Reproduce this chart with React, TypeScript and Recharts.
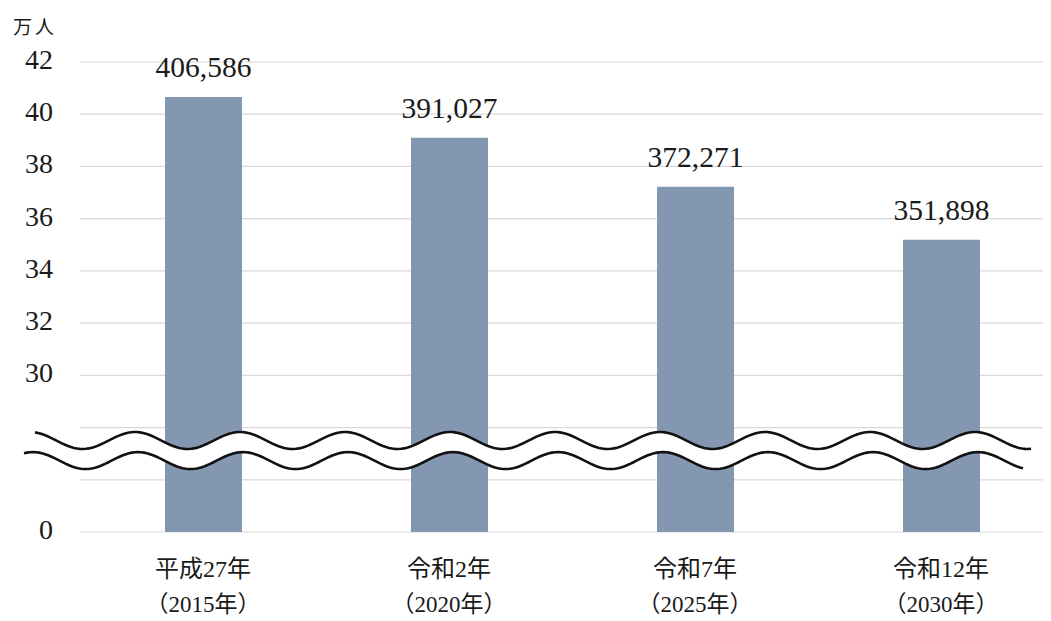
import { BarChart, Bar, XAxis, YAxis, CartesianGrid, LabelList, ReferenceArea } from "recharts";

// 人口（人）
const eraLabels = ["平成27年", "令和2年", "令和7年", "令和12年"];
const yearLabels = ["（2015年）", "（2020年）", "（2025年）", "（2030年）"];
const population = [406586, 391027, 372271, 351898];

// y axis is broken: the bottom tick (24) is shown as 0
const yTicks = [24, 26, 28, 30, 32, 34, 36, 38, 40, 42];
const yTickText: Record<number, string> = { 24: "0", 26: "", 28: "" };

const data = eraLabels.map((era, i) => ({
  era,
  people: population[i],
  man: population[i] / 10000,
}));

const FONT = '"Liberation Serif", "Noto Sans CJK JP", serif';
const TEXT = "#1a1a1a";

const XTick = (props: any) => {
  const { x, y, payload } = props;
  const i = payload.index ?? eraLabels.indexOf(payload.value);
  return (
    <g>
      <text x={x} y={y + 45} textAnchor="middle" fontSize={24} fill={TEXT} fontFamily={FONT}>
        {payload.value}
      </text>
      <text x={x} y={y + 80} textAnchor="middle" fontSize={23} fill={TEXT} fontFamily={FONT}>
        {yearLabels[i]}
      </text>
    </g>
  );
};

const curve = (xs: number, xe: number, yc: number, amp: number, peakX: number, period: number) => {
  const pts: [number, number][] = [];
  for (let px = xs; px <= xe; px += 3) {
    pts.push([px, yc - amp * Math.cos((2 * Math.PI * (px - peakX)) / period)]);
  }
  return pts;
};

const BreakWave = (props: any) => {
  const { x, y, height } = props;
  const amp = 8.5;
  const period = 105;
  const peakX = x - 50;
  const upper = curve(x - 45, x + 953, y + amp, amp, peakX, period);
  const lower = curve(x - 56, x + 943, y + height - amp, amp, peakX + 3, period);
  const fillUp = curve(x - 56, x + 953, y + amp, amp, peakX, period);
  const fillLow = curve(x - 56, x + 953, y + height - amp, amp, peakX + 3, period);
  const toD = (p: [number, number][]) => p.map((q, k) => `${k ? "L" : "M"}${q[0]},${q[1]}`).join(" ");
  const fillD =
    toD(fillUp) +
    " " +
    fillLow
      .slice()
      .reverse()
      .map((q) => `L${q[0]},${q[1]}`)
      .join(" ") +
    " Z";
  return (
    <g>
      <path d={fillD} fill="#ffffff" stroke="none" />
      <path d={toD(upper)} fill="none" stroke="#111" strokeWidth={2.6} />
      <path d={toD(lower)} fill="none" stroke="#111" strokeWidth={2.6} />
    </g>
  );
};

export default function App() {
  return (
    <div style={{ position: "relative", width: 1043, height: 613, overflow: "hidden", background: "#fff" }}>
      <div
        style={{
          position: "absolute",
          left: 5,
          top: 8,
          fontSize: 19,
          lineHeight: 1,
          letterSpacing: 3,
          fontFamily: '"Noto Sans CJK JP", sans-serif',
          color: TEXT,
        }}
      >
        万人
      </div>
      <BarChart width={1060} height={613} data={data} margin={{ top: 54, right: 4, left: 0, bottom: 0 }}>
        <CartesianGrid vertical={false} stroke="#d9d9d9" strokeWidth={1.2} />
        <XAxis
          dataKey="era"
          height={89}
          axisLine={false}
          tickLine={false}
          tickSize={0}
          tickMargin={0}
          interval={0}
          tick={<XTick />}
        />
        <YAxis
          width={72}
          domain={[24, 42]}
          ticks={yTicks}
          interval={0}
          axisLine={false}
          tickLine={false}
          tickSize={0}
          tickMargin={27}
          tickFormatter={(v: number) => (v in yTickText ? yTickText[v] : String(v))}
          tick={{ fontSize: 28, fill: TEXT, fontFamily: FONT, dy: -3 }}
        />
        <Bar dataKey="man" fill="#8497b0" barSize={77} isAnimationActive={false}>
          <LabelList
            dataKey="people"
            position="top"
            offset={20}
            formatter={(v: any) => Number(v).toLocaleString("en-US")}
            style={{ fontSize: 29.5, fill: TEXT, fontFamily: FONT }}
          />
        </Bar>
        <ReferenceArea
          y1={26.41}
          y2={27.83}
          ifOverflow="visible"
          zIndex={1500}
          shape={<BreakWave />}
        />
      </BarChart>
    </div>
  );
}
